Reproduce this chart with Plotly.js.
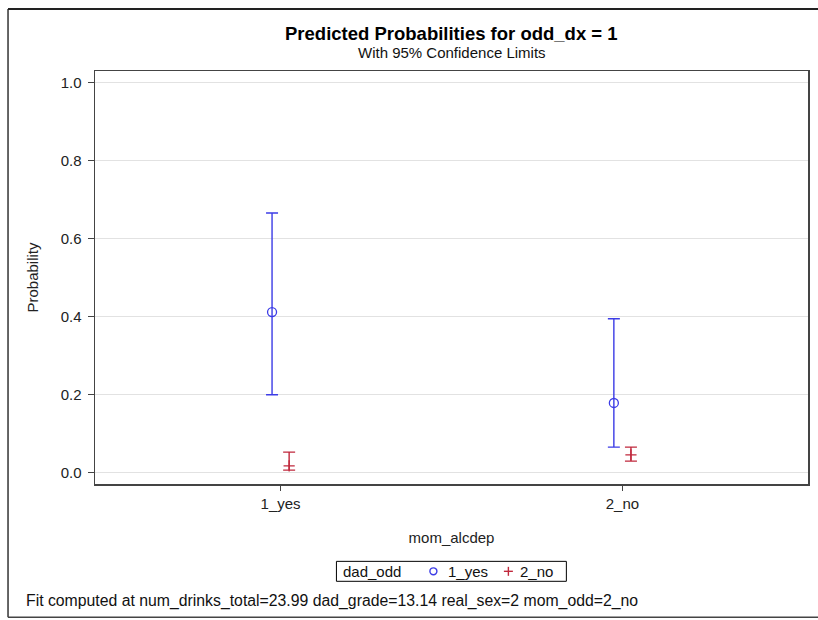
<!DOCTYPE html>
<html>
<head>
<meta charset="utf-8">
<script src="https://cdn.plot.ly/plotly-3.0.1.min.js"></script>
<style>html,body{margin:0;padding:0;background:#fff;}#chart{width:818px;height:620px;}</style>
</head>
<body>
<div id="chart"></div>
<script>
// Data
const categories = ["1_yes", "2_no"];
const groupNames = ["1_yes", "2_no"];          // dad_odd levels
const legendTitle = "dad_odd";
const probYes = [0.412, 0.179];                 // dad_odd = 1_yes
const lowerYes = [0.200, 0.066];
const upperYes = [0.666, 0.395];
const probNo = [0.018, 0.046];                  // dad_odd = 2_no
const lowerNo = [0.007, 0.030];
const upperNo = [0.053, 0.066];
const yTicks = [0.0, 0.2, 0.4, 0.6, 0.8, 1.0];
const titleText = "Predicted Probabilities for odd_dx = 1";
const subtitleText = "With 95% Confidence Limits";
const footnote = "Fit computed at num_drinks_total=23.99 dad_grade=13.14 real_sex=2 mom_odd=2_no";

const offset = 0.025;
const idx = categories.map((c, i) => i);
const FONT = "Liberation Sans, Arial, sans-serif";
const BLUE = "#3c3ce6", RED = "#c0283c";

// paper-coordinate helpers (plot area: l=94.5, t=70.7, w=713.2, h=413.8)
const PX = x => (x - 94.5) / 713.2;
const PY = y => (484.5 - y) / 413.8;

function trace(name, probs, lo, hi, shift, color, symbol, size) {
  return {
    type: "scatter", mode: "markers", name: name, showlegend: false,
    x: idx.map(i => i + shift), y: probs,
    marker: {symbol: symbol, size: size, color: color, line: {color: color, width: 1.3}},
    error_y: {type: "data", symmetric: false,
      array: probs.map((p, i) => hi[i] - p),
      arrayminus: probs.map((p, i) => p - lo[i]),
      color: color, thickness: 1.4, width: 6},
    cliponaxis: false
  };
}

const data = [
  trace(groupNames[0], probYes, lowerYes, upperYes, -offset, BLUE, "circle-open", 9),
  trace(groupNames[1], probNo, lowerNo, upperNo, offset, RED, "cross-thin-open", 8)
];

const legY = PY(572);
const layout = {
  width: 818, height: 620,
  margin: {l: 94.5, r: 10.3, t: 70.7, b: 135.5},
  paper_bgcolor: "#fff", plot_bgcolor: "#fff",
  font: {family: FONT, size: 15, color: "#000"},
  showlegend: false,
  xaxis: {
    range: [-0.543, 1.543], tickvals: idx, ticktext: categories,
    showgrid: false, zeroline: false,
    showline: true, mirror: true, linecolor: "#444", linewidth: 1.5,
    ticks: "outside", ticklen: 5, tickcolor: "#444",
    tickfont: {size: 15, color: "#222"},
    title: {text: "mom_alcdep", font: {size: 15, color: "#222"}, standoff: 22}
  },
  yaxis: {
    range: [-0.0286, 1.0297], tickvals: yTicks, ticktext: yTicks.map(v => v.toFixed(1)),
    showgrid: true, gridcolor: "#e2e2e2", gridwidth: 1, zeroline: false,
    showline: true, mirror: true, linecolor: "#444", linewidth: 1.5,
    ticks: "outside", ticklen: 6, tickcolor: "#444", ticklabelstandoff: 3,
    tickfont: {size: 15, color: "#222"},
    title: {text: "Probability", font: {size: 15, color: "#222"}, standoff: 18}
  },
  annotations: [
    {text: "<b>" + titleText + "</b>", xref: "paper", yref: "paper", x: 0.5, y: 1.091,
     xanchor: "center", yanchor: "middle", showarrow: false, font: {size: 18.5, color: "#000"}},
    {text: subtitleText, xref: "paper", yref: "paper", x: 0.5, y: 1.045,
     xanchor: "center", yanchor: "middle", showarrow: false, font: {size: 15, color: "#111"}},
    {text: footnote, xref: "paper", yref: "paper",
     x: -0.0989, y: -0.2835, xanchor: "left", yanchor: "middle",
     showarrow: false, font: {size: 15.8, color: "#111"}},
    // legend texts
    {text: legendTitle, xref: "paper", yref: "paper", x: PX(341), y: legY,
     xanchor: "left", yanchor: "middle", showarrow: false, font: {size: 15, color: "#111"}},
    {text: groupNames[0], xref: "paper", yref: "paper", x: PX(446), y: legY,
     xanchor: "left", yanchor: "middle", showarrow: false, font: {size: 15, color: "#111"}},
    {text: groupNames[1], xref: "paper", yref: "paper", x: PX(518), y: legY,
     xanchor: "left", yanchor: "middle", showarrow: false, font: {size: 15, color: "#111"}}
  ],
  shapes: [
    // outer frame (left, top, bottom)
    {type: "line", xref: "paper", yref: "paper", x0: PX(7.5), x1: PX(7.5), y0: PY(8.5), y1: PY(618),
     line: {color: "#333", width: 1.5}},
    {type: "line", xref: "paper", yref: "paper", x0: PX(7.5), x1: PX(830), y0: PY(8.5), y1: PY(8.5),
     line: {color: "#222", width: 2}},
    {type: "line", xref: "paper", yref: "paper", x0: PX(7.5), x1: PX(830), y0: PY(618), y1: PY(618),
     line: {color: "#444", width: 1.5}},
    // legend box
    {type: "rect", xref: "paper", yref: "paper", x0: PX(336), x1: PX(566), y0: PY(582), y1: PY(562),
     line: {color: "#000", width: 1}, fillcolor: "#fff"},
    // legend symbols
    {type: "circle", xref: "paper", yref: "paper", x0: PX(429.5), x1: PX(436.5), y0: PY(575.5), y1: PY(568.5),
     line: {color: BLUE, width: 1.4}},
    {type: "line", xref: "paper", yref: "paper", x0: PX(503.5), x1: PX(512.5), y0: legY, y1: legY,
     line: {color: RED, width: 1.4}},
    {type: "line", xref: "paper", yref: "paper", x0: PX(508), x1: PX(508), y0: PY(576.5), y1: PY(567.5),
     line: {color: RED, width: 1.4}}
  ]
};

Plotly.newPlot("chart", data, layout, {displayModeBar: false, staticPlot: true});
</script>
</body>
</html>
